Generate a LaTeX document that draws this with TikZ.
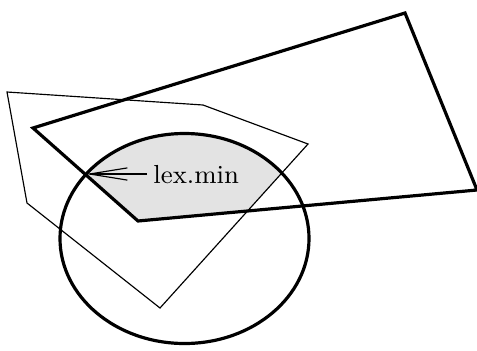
\documentclass[tikz,border=0pt]{standalone}
\usepackage{amsmath,amssymb}
\usepackage{tikz}
\usetikzlibrary{arrows.meta,positioning}
\tikzset{bound/.style={draw=black,line width=1.1pt,line join=miter},cut/.style={draw=black,line width=0.4pt},reg/.style={fill=black!11},lab/.style={anchor=base west,inner sep=2pt,font=\small},ptr/.style={-{Straight Barb[length=13pt,width=4.2pt]},line width=0.4pt}}

\begin{document}
\begin{tikzpicture}[x=0.345pt,y=-0.345pt]
\path[use as bounding box] (0,0) rectangle (477,350);
% feasible region = ellipse & quad & pentagon
\begin{scope}
\clip (184.5,238.5) ellipse [x radius=124.5,y radius=105];
\clip (33,128)--(405,13)--(477,190)--(138,221)--cycle;
\fill[reg] (7,92)--(203,105)--(308,144)--(160,308)--(27,203)--cycle;
\end{scope}
\draw[cut] (7,92)--(203,105)--(308,144)--(160,308)--(27,203)--cycle;
\draw[bound] (33,128)--(405,13)--(477,190)--(138,221)--cycle;
\draw[bound] (184.5,238.5) ellipse [x radius=124.5,y radius=105];
\coordinate (lexmin) at (86,174);
\node[lab] (lex) at (147,183) {lex.min};
\draw[ptr] (lex.west |- lexmin)--(lexmin);
\end{tikzpicture}
\end{document}
